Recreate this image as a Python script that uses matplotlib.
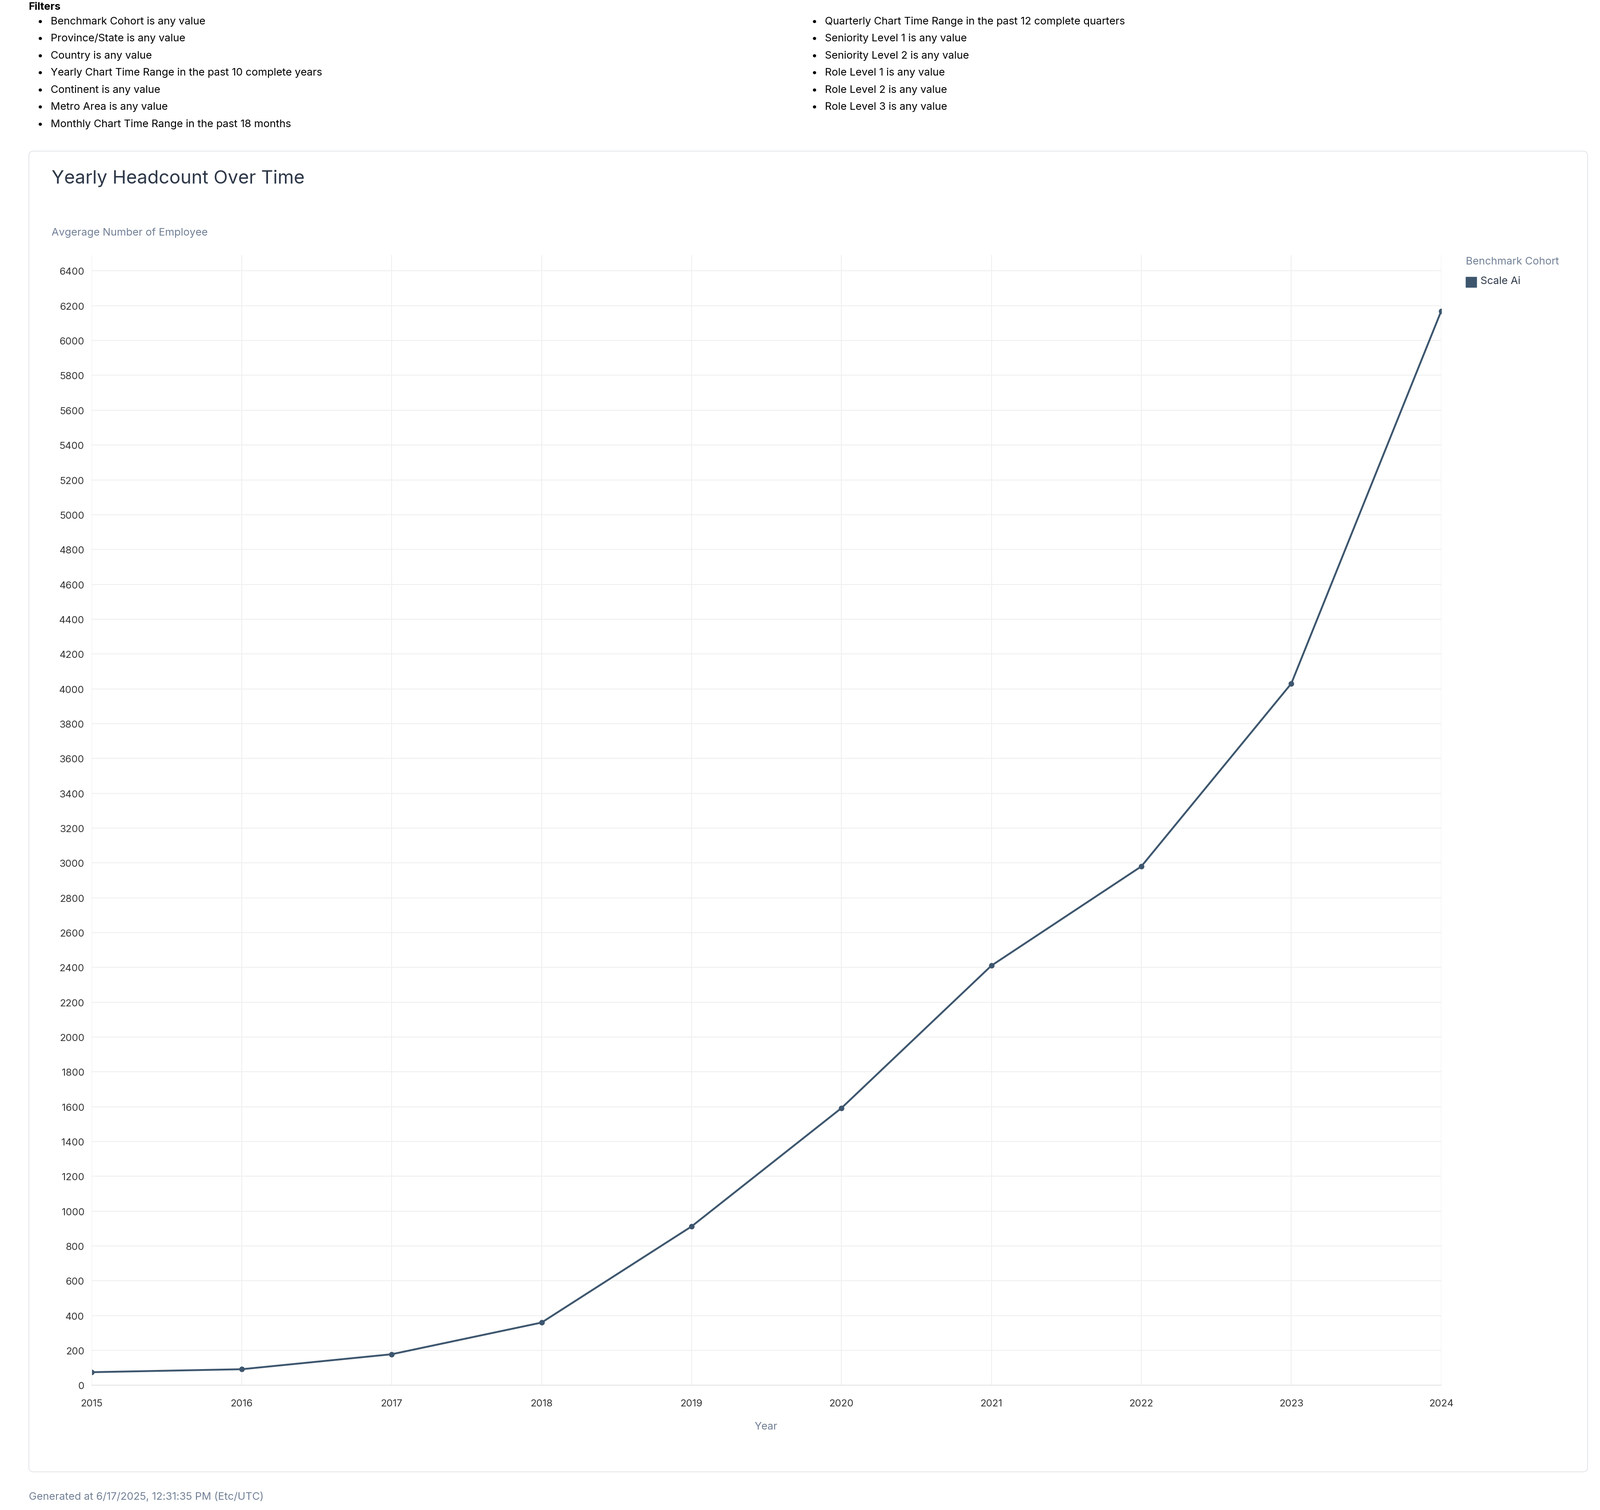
import matplotlib
matplotlib.use("Agg")
import matplotlib.pyplot as plt
from matplotlib.patches import FancyBboxPatch, Rectangle

years = [2015, 2016, 2017, 2018, 2019, 2020, 2021, 2022, 2023, 2024]
headcount = [75, 92, 178, 360, 912, 1592, 2410, 2980, 4030, 6170]
yticks = list(range(0, 6401, 200))
filters_left = ["Benchmark Cohort is any value", "Province/State is any value", "Country is any value",
                "Yearly Chart Time Range in the past 10 complete years", "Continent is any value",
                "Metro Area is any value", "Monthly Chart Time Range in the past 18 months"]
filters_right = ["Quarterly Chart Time Range in the past 12 complete quarters", "Seniority Level 1 is any value",
                 "Seniority Level 2 is any value", "Role Level 1 is any value", "Role Level 2 is any value",
                 "Role Level 3 is any value"]

W, H = 1552, 1465
fig = plt.figure(figsize=(36, 33.98), dpi=100)
plt.rcParams["font.family"] = "Inter"
fx = lambda x: x / W
fy = lambda y: 1 - y / H

fig.text(fx(28), fy(7), "Filters", fontsize=17, fontweight="bold", va="center")
for i, t in enumerate(filters_left):
    fig.text(fx(36), fy(21 + 16.6 * i), "•", fontsize=17, va="center")
    fig.text(fx(49), fy(21 + 16.6 * i), t, fontsize=17, va="center")
for i, t in enumerate(filters_right):
    fig.text(fx(787), fy(21 + 16.6 * i), "•", fontsize=17, va="center")
    fig.text(fx(800), fy(21 + 16.6 * i), t, fontsize=17, va="center")

fig.patches.append(FancyBboxPatch((fx(28), fy(1428)), fx(1540 - 28), (1428 - 147) / H,
                                  boxstyle="round,pad=0,rounding_size=0.003", transform=fig.transFigure,
                                  fill=False, edgecolor="#e5e7eb", linewidth=1.5))
fig.text(fx(50), fy(173), "Yearly Headcount Over Time", fontsize=30, color="#2d3748", va="center")
fig.text(fx(50), fy(226), "Avgerage Number of Employee", fontsize=17, color="#718096", va="center")
fig.text(fx(743), fy(1384), "Year", fontsize=17, color="#718096", va="center", ha="center")
fig.text(fx(28), fy(1452), "Generated at 6/17/2025, 12:31:35 PM (Etc/UTC)", fontsize=17, color="#718096", va="center")

fig.text(fx(1422), fy(254), "Benchmark Cohort", fontsize=17, color="#718096", va="center")
fig.patches.append(Rectangle((fx(1422), fy(279)), fx(10), 10 / H, transform=fig.transFigure, color="#3d566e"))
fig.text(fx(1436), fy(273), "Scale Ai", fontsize=17, color="#2d3748", va="center")

ax = fig.add_axes([fx(89), fy(1344), fx(1398 - 89), (1344 - 248) / H])
ax.plot(years, headcount, color="#3d566e", linewidth=3, marker="o", markersize=8)
ax.set_xlim(2015, 2024)
ax.set_ylim(0, 6490)
ax.set_yticks(yticks)
ax.set_xticks(years)
ax.tick_params(labelsize=16, colors="#333333", length=0, pad=12)
ax.tick_params(axis="x", pad=22)
ax.grid(True, color="#f0f0f0", linewidth=1.5)
for s in ["top", "right"]:
    ax.spines[s].set_visible(False)
ax.spines["left"].set_color("#f0f0f0")
ax.spines["bottom"].set_color("#dddddd")
fig.savefig("out.png", dpi=100)
